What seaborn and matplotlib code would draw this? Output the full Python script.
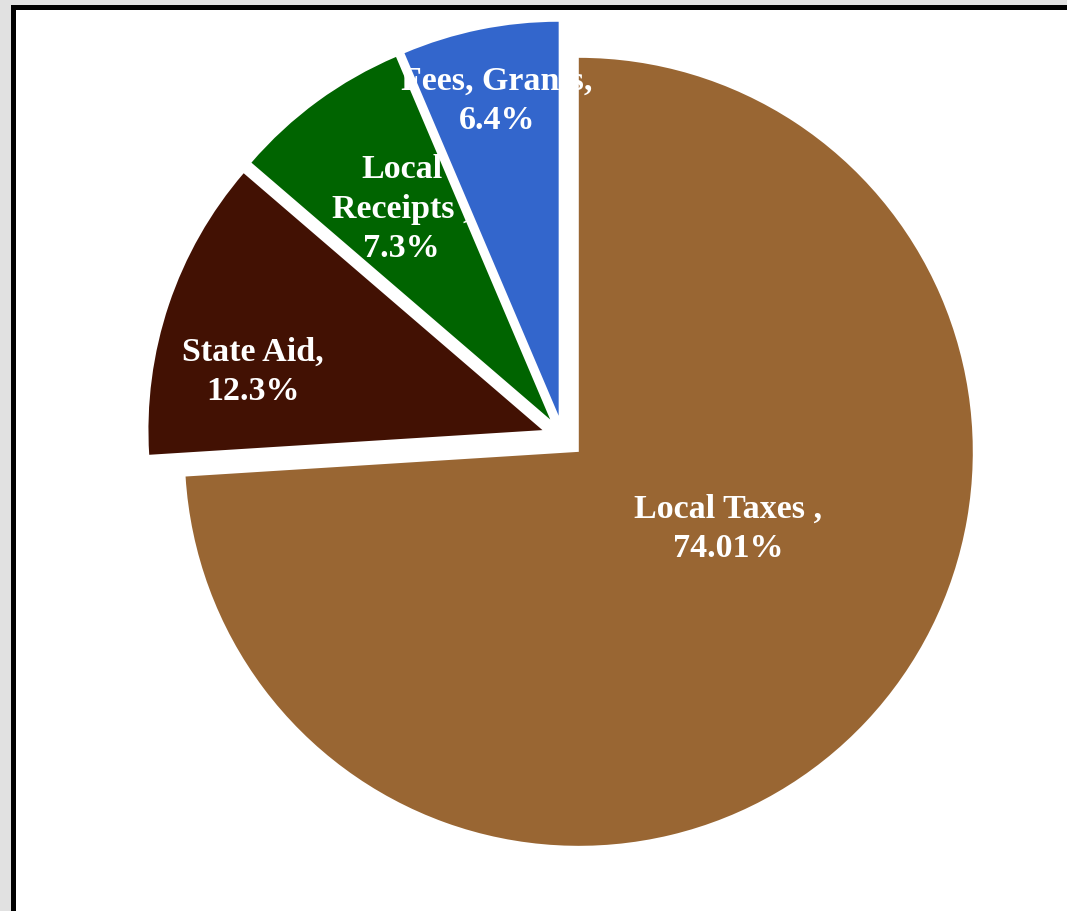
import matplotlib
matplotlib.use("Agg")
import matplotlib.pyplot as plt
from matplotlib.patches import Rectangle
import seaborn as sns

sns.set_theme(style="white")
plt.rcParams['font.family'] = ['Liberation Serif', 'DejaVu Serif']

# ---- data ----
categories = ["Local Taxes ,", "State Aid,", "Local\nReceipts ,", "Fees, Grants,"]
pct_labels = ["74.01%", "12.3%", "7.3%", "6.4%"]
values = [74.01, 12.3, 7.3, 6.4]
colors = ["#996633", "#421103", "#006400", "#3366CC"]

# ---- layout (label centres in axes data units, radius = 1) ----
label_pos = [(0.419, -0.231), (-0.787, 0.167), (-0.409, 0.581), (-0.168, 0.855)]

W, H, DPI = 1067, 912, 100
fig = plt.figure(figsize=(W / DPI, H / DPI), dpi=DPI)
fig.patch.set_facecolor("#e1e1e1")

# white panel with black frame (extends past right and bottom edges)
frame = Rectangle((12.5 / W, -0.2), 1.3, (H - 7.75) / H + 0.2,
                  transform=fig.transFigure, facecolor="white",
                  edgecolor="black", linewidth=3.6, zorder=0)
fig.add_artist(frame)

ax = fig.add_axes([0, 0, 1, 1])
ax.patch.set_visible(False)

wedges, _ = ax.pie(values, colors=colors, startangle=90, counterclock=False,
                   explode=[0.055] * len(values), radius=1.0,
                   wedgeprops=dict(linewidth=0))

R = 394.0
cx, cy = 563.0, H - 438.0
ax.set_aspect("auto")
ax.set_xlim(-cx / R, (W - cx) / R)
ax.set_ylim(-cy / R, (H - cy) / R)
ax.axis("off")

for cat, pct, (x, y) in zip(categories, pct_labels, label_pos):
    ax.text(x, y, f"{cat}\n{pct}", ha="center", va="center", color="white",
            fontsize=24.5, fontweight="bold", linespacing=1.34, zorder=5)

fig.savefig("out.png", dpi=DPI, facecolor=fig.get_facecolor())
